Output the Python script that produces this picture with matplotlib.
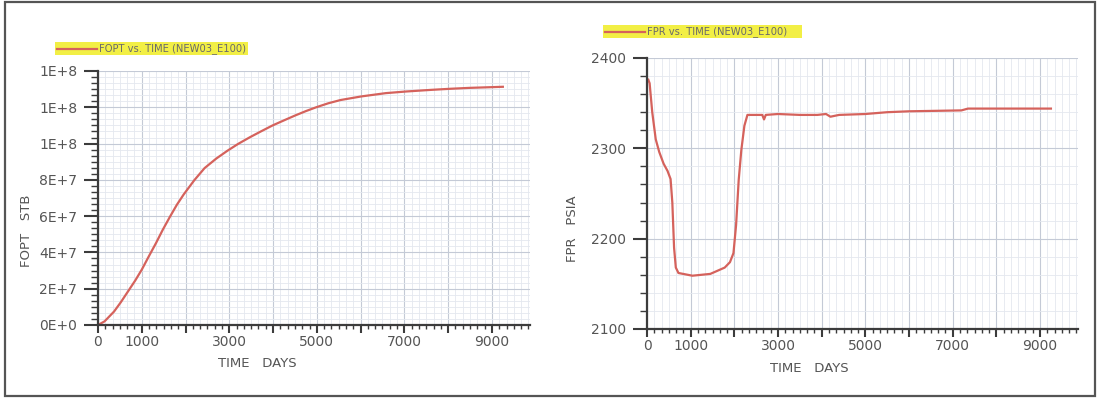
import matplotlib
matplotlib.use("Agg")
import matplotlib.pyplot as plt
from matplotlib.ticker import MultipleLocator, AutoMinorLocator, FuncFormatter
from matplotlib.patches import Rectangle
from matplotlib.lines import Line2D

# Field oil production total (STB) against time (days)
fopt_days = [0, 150, 366, 520, 685, 850, 1000, 1160, 1322, 1480, 1640, 1800,
             1959, 2200, 2436, 2700, 2954, 3200, 3471, 3730, 3989, 4250, 4506,
             4750, 4984, 5260, 5541, 6019, 6576, 7038, 7611, 8049, 8487, 9005,
             9250]
fopt_stb = [0.0, 0.2e7, 0.74e7, 1.25e7, 1.85e7, 2.45e7, 3.05e7, 3.78e7,
            4.5e7, 5.25e7, 5.95e7, 6.62e7, 7.2e7, 7.98e7, 8.65e7, 9.17e7,
            9.6e7, 9.98e7, 1.035e8, 1.068e8, 1.10e8, 1.128e8, 1.155e8,
            1.179e8, 1.20e8, 1.222e8, 1.24e8, 1.26e8, 1.278e8, 1.287e8,
            1.296e8, 1.302e8, 1.307e8, 1.311e8, 1.313e8]

# Field pressure (PSIA) against time (days)
fpr_days = [30, 60, 120, 200, 280, 380, 470, 540, 580, 620, 660, 720, 1040,
            1450, 1780, 1900, 1980, 2040, 2100, 2160, 2230, 2300, 2500, 2640,
            2680, 2720, 3000, 3500, 3900, 4100, 4200, 4400, 5000, 5500, 6000,
            7200, 7350, 8000, 9250]
fpr_psia = [2376, 2372, 2340, 2310, 2296, 2283, 2275, 2266, 2240, 2190, 2168,
            2162, 2159, 2161, 2168, 2174, 2184, 2215, 2265, 2298, 2325, 2337,
            2337, 2337, 2332, 2337, 2338, 2337, 2337, 2338, 2335, 2337, 2338,
            2340, 2341, 2342, 2344, 2344, 2344]

left_legend = "FOPT vs. TIME (NEW03_E100)"
right_legend = "FPR vs. TIME (NEW03_E100)"
time_label = "TIME   DAYS"
fopt_label = "FOPT   STB"
fpr_label = "FPR   PSIA"
labelled_days = [0, 1000, 3000, 5000, 7000, 9000]

W, H = 1099, 399
LINE_COLOR = "#d5625c"
TEXT_COLOR = "#555555"
AXIS_COLOR = "#3c3c3c"

fig = plt.figure(figsize=(W / 100, H / 100), dpi=100)
fig.patch.set_facecolor("white")


def px_axes(x0, y_top, x1, y_bottom):
    return [x0 / W, (H - y_bottom) / H, (x1 - x0) / W, (y_bottom - y_top) / H]


ax1 = fig.add_axes(px_axes(98, 71, 530, 325))
ax2 = fig.add_axes(px_axes(647, 58, 1078, 329))


def day_fmt(v, pos):
    iv = int(round(v))
    return str(iv) if iv in labelled_days else ""


def sci_fmt(v, pos):
    mant, exp = f"{v:.0E}".split("E")
    return f"{mant}E+{int(exp)}"


def style(ax):
    ax.set_facecolor("white")
    for s in ("top", "right"):
        ax.spines[s].set_visible(False)
    for s in ("left", "bottom"):
        ax.spines[s].set_linewidth(1.6)
        ax.spines[s].set_color(AXIS_COLOR)
    ax.set_xlim(0, 9870)
    ax.xaxis.set_major_locator(MultipleLocator(1000))
    ax.xaxis.set_minor_locator(AutoMinorLocator(6))
    ax.xaxis.set_major_formatter(FuncFormatter(day_fmt))
    ax.tick_params(axis="x", which="major", length=5.5, width=1.5,
                   color=AXIS_COLOR, pad=2, labelsize=10, labelcolor=TEXT_COLOR)
    ax.tick_params(axis="x", which="minor", length=3, width=1.0,
                   color=AXIS_COLOR)
    ax.tick_params(axis="y", which="major", length=10, width=1.5,
                   color=AXIS_COLOR, pad=5, labelsize=10, labelcolor=TEXT_COLOR)
    ax.tick_params(axis="y", which="minor", length=5, width=1.0,
                   color=AXIS_COLOR)
    ax.set_axisbelow(True)
    ax.grid(which="major", color="#c4cad6", linewidth=0.8)
    ax.grid(which="minor", color="#e4e8ef", linewidth=0.6)
    ax.set_xlabel(time_label, fontsize=9.5, color=TEXT_COLOR)


style(ax1)
ax1.set_ylim(0, 1.4e8)
ax1.yaxis.set_major_locator(MultipleLocator(2e7))
ax1.yaxis.set_minor_locator(AutoMinorLocator(6))
ax1.yaxis.set_major_formatter(FuncFormatter(sci_fmt))
ax1.set_ylabel(fopt_label, fontsize=9.5, color=TEXT_COLOR)
ax1.xaxis.set_label_coords(0.368, -0.125)
ax1.yaxis.set_label_coords(-0.150, 0.37)
l1, = ax1.plot(fopt_days, fopt_stb, color=LINE_COLOR, lw=1.6)

style(ax2)
ax2.set_ylim(2100, 2400)
ax2.yaxis.set_major_locator(MultipleLocator(100))
ax2.yaxis.set_minor_locator(AutoMinorLocator(5))
ax2.set_ylabel(fpr_label, fontsize=9.5, color=TEXT_COLOR)
ax2.xaxis.set_label_coords(0.376, -0.122)
ax2.yaxis.set_label_coords(-0.158, 0.37)
l2, = ax2.plot(fpr_days, fpr_psia, color=LINE_COLOR, lw=1.6)


def legend_box(x0, x1, y_top, y_bot, line, text):
    fy = lambda y: (H - y) / H
    fx = lambda x: x / W
    fig.patches.append(Rectangle((fx(x0), fy(y_bot)), fx(x1) - fx(x0),
                                 fy(y_top) - fy(y_bot), transform=fig.transFigure,
                                 facecolor="#f2ef45", edgecolor="none"))
    ym = fy((y_top + y_bot) / 2)
    fig.lines.append(Line2D([fx(x0 + 2), fx(x0 + 42)], [ym, ym],
                            transform=fig.transFigure,
                            color=line.get_color(), lw=1.6))
    fig.text(fx(x0 + 44), ym, text, fontsize=7.2, color="#6a6a6a",
             va="center", ha="left")


legend_box(55, 248, 42, 55, l1, left_legend)
legend_box(603, 802, 25, 38, l2, right_legend)

# outer frame of the figure
fig.patches.append(Rectangle((5 / W, 3 / H), (1095 - 5) / W, (397 - 3) / H,
                             transform=fig.transFigure, facecolor="none",
                             edgecolor="#555555", linewidth=1.6))

fig.savefig("out.png", dpi=100)
